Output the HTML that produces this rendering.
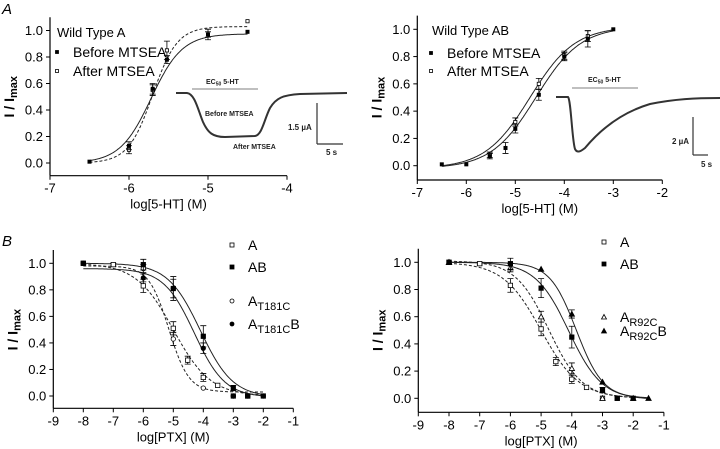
<!DOCTYPE html>
<html><head><meta charset="utf-8">
<style>
html,body{margin:0;padding:0;background:#fff;}
svg{display:block;font-family:"Liberation Sans",sans-serif;}
</style></head>
<body>
<svg id="fig" width="720" height="449" viewBox="0 0 720 449" xmlns="http://www.w3.org/2000/svg">
<text x="2" y="14" font-size="15" font-style="italic">A</text>
<text x="2" y="246" font-size="15" font-style="italic">B</text>
<!-- inset traces -->
<g fill="none" stroke="#333">
<path d="M176,93 L187,93 C195,94 198,110 203,122 C208,133 213,137 225,137 L255,136 C262,135 264,120 270,108 C276,98 283,95 300,94 L347,93" stroke-width="2"/>
<line x1="192" y1="89" x2="258" y2="89" stroke="#999" stroke-width="1.2"/>
<line x1="317" y1="103" x2="317" y2="144" stroke-width="1.2"/>
<line x1="317" y1="144" x2="343" y2="144" stroke-width="1.2"/>
</g>
<g font-size="7" font-weight="bold" fill="#222">
<text x="206" y="84">EC<tspan font-size="5" dy="1.5">50</tspan><tspan dy="-1.5"> 5-HT</tspan></text>
<text x="205" y="116">Before MTSEA</text>
<text x="233" y="149">After MTSEA</text>
<text x="288" y="130" font-size="8">1.5 µA</text>
<text x="326" y="155" font-size="8">5 s</text>
</g>
<g fill="none" stroke="#333">
<path d="M556,97 L568,97 C571,100 572,140 575,149 C577,153 580,152 585,148 C600,130 620,113 650,104 C675,99 695,98 720,98" stroke-width="2"/>
<line x1="572" y1="88" x2="638" y2="88" stroke="#999" stroke-width="1.2"/>
<line x1="693" y1="117" x2="693" y2="155" stroke-width="1.2"/>
<line x1="693" y1="155" x2="708" y2="155" stroke-width="1.2"/>
</g>
<g font-size="7" font-weight="bold" fill="#222">
<text x="588" y="82">EC<tspan font-size="5" dy="1.5">50</tspan><tspan dy="-1.5"> 5-HT</tspan></text>
<text x="672" y="144" font-size="8">2 µA</text>
<text x="701" y="167" font-size="8">5 s</text>
</g>
</svg>
<script>
// ---- Panel A left (Wild Type A) ----
const aL_beforeX=[-6.5,-6,-5.7,-5.52,-5,-4.5];
const aL_beforeY=[0.01,0.13,0.56,0.78,0.97,0.99];
const aL_beforeErr=[0,0.03,0.04,0.03,0.02,0];
const aL_afterX=[-6,-5.7,-5.52,-5,-4.5];
const aL_afterY=[0.10,0.55,0.85,0.97,1.07];
const aL_afterErr=[0.03,0.04,0.07,0.04,0];
const aL_beforeFit=[0,0.975,-5.72,2.2];
const aL_afterFit=[0,1.03,-5.70,2.8];
// ---- Panel A right (Wild Type AB) ----
const aR_beforeX=[-6.5,-6,-5.52,-5.2,-5,-4.52,-4,-3.52,-3];
const aR_beforeY=[0.01,0.01,0.07,0.13,0.27,0.52,0.80,0.93,1.0];
const aR_beforeErr=[0,0,0.02,0.04,0.03,0.04,0.03,0.06,0];
const aR_afterX=[-5.52,-5,-4.52,-4,-3.52];
const aR_afterY=[0.08,0.32,0.60,0.81,0.95];
const aR_afterErr=[0.02,0.03,0.04,0.03,0.04];
const aR_beforeFit=[-0.02,1.02,-4.58,0.95];
const aR_afterFit=[-0.02,1.02,-4.70,0.95];
// ---- Panel B shared ----
const bA_X=[-8,-7,-6,-5,-4.52,-4,-3.52,-3,-2.52];
const bA_Y=[1.0,0.99,0.83,0.51,0.27,0.14,0.08,0.0,0.0];
const bA_Err=[0,0.01,0.05,0.05,0.03,0.03,0,0,0];
const bAB_X=[-8,-6,-5,-4,-3,-2.52,-2];
const bAB_Y=[1.0,0.99,0.81,0.45,0.06,0.0,0.0];
const bAB_Err=[0,0.04,0.07,0.08,0.02,0,0];
const bA_Fit=[0,1.0,-5.0,0.7];
const bAB_Fit=[-0.01,1.0,-4.1,0.8];
// ---- Panel B left ----
const bT_X=[-8,-6,-5,-4,-3];
const bT_Y=[1.0,0.96,0.43,0.06,0.0];
const bT_Err=[0,0.03,0.05,0,0];
const bTB_X=[-8,-6,-5,-4,-3,-2.52,-2];
const bTB_Y=[1.0,0.89,0.81,0.36,0.0,0.0,0.0];
const bTB_Err=[0,0.03,0.09,0.04,0,0,0];
const bT_Fit=[0.03,0.98,-5.15,1.3];
const bTB_Fit=[-0.01,0.96,-4.3,0.85];
// ---- Panel B right ----
const bR_X=[-8,-6,-5,-4,-3];
const bR_Y=[1.0,0.96,0.60,0.22,0.0];
const bR_Err=[0,0.03,0.04,0.04,0];
const bRB_X=[-8,-5,-4,-3,-2,-1.5];
const bRB_Y=[1.0,0.95,0.62,0.12,0.0,0.0];
const bRB_Err=[0,0,0.03,0,0,0];
const bR_Fit=[0,1.01,-4.75,0.8];
const bRB_Fit=[0,1.0,-3.85,1.0];

const NS="http://www.w3.org/2000/svg";
const svg=document.getElementById('fig');
function mk(tag,attrs,parent){const e=document.createElementNS(NS,tag);for(const k in attrs)e.setAttribute(k,attrs[k]);(parent||svg).appendChild(e);return e;}

function makeAxes(name,ax){
  const g=mk('g',{});
  
  
  const sx=v=>ax.x0+(v-ax.xmin)*ax.xs, sy=v=>ax.y0-v*ax.ys;
  const yAxis=mk('line',{x1:ax.x0,y1:sy(1.1),x2:ax.x0,y2:ax.axY,stroke:'#000','stroke-width':1.2},g);
  
  
  const xAxis=mk('line',{x1:ax.x0,y1:ax.axY,x2:sx(ax.xmax),y2:ax.axY,stroke:'#000','stroke-width':1.2},g);
  
  
  for(const t of ax.yt){
    mk('line',{x1:ax.x0-4,y1:sy(t),x2:ax.x0,y2:sy(t),stroke:'#000'},g);
    const tx=mk('text',{x:ax.x0-7,y:sy(t)+4.5,'text-anchor':'end','font-size':13},g);
    tx.textContent=t.toFixed(1);
    
    
  }
  for(const t of ax.xt){
    mk('line',{x1:sx(t),y1:ax.axY,x2:sx(t),y2:ax.axY+4,stroke:'#000'},g);
    const tx=mk('text',{x:sx(t),y:ax.axY+17,'text-anchor':'middle','font-size':13},g);
    tx.textContent=String(t);
    
    
  }
  const xl=mk('text',{x:(ax.x0+sx(ax.xmax))/2,y:ax.axY+33,'text-anchor':'middle','font-size':13},g);
  xl.textContent=ax.xlabel;
  
  
  const cy=sy(0.5);
  const yl=mk('text',{x:0,y:0,'text-anchor':'middle','font-size':14,'font-weight':'bold',transform:`translate(${ax.x0-36},${cy}) rotate(-90)`},g);
  yl.innerHTML='I / I<tspan font-size="11" dy="3">max</tspan>';
  
  
  return {sx,sy,g};
}
function fit(ax,p,dashed,dir,name,x1,x2){
  const [bot,top,c,h]=p;let d='';
  for(let i=0;i<=200;i++){const x=x1+(x2-x1)*i/200;const y=bot+(top-bot)/(1+Math.pow(10,dir*(c-x)*h));d+=(i?'L':'M')+ax.sx(x).toFixed(1)+','+ax.sy(y).toFixed(1);}
  const e=mk('path',{d,fill:'none',stroke:'#222','stroke-width':1,'stroke-dasharray':dashed?'3,2':'none'},ax.g);
  
  
}
function marker(g,x,y,shape,s){
  const fill=shape[0]==='f'?'#000':'#fff';const k=shape.slice(1);
  if(k==='sq')return mk('rect',{x:x-s,y:y-s,width:2*s,height:2*s,fill,stroke:'#000','stroke-width':0.8},g);
  if(k==='ci')return mk('circle',{cx:x,cy:y,r:s,fill,stroke:'#000','stroke-width':0.8},g);
  return mk('polygon',{points:`${x},${y-s-0.5} ${x-s-0.5},${y+s} ${x+s+0.5},${y+s}`,fill,stroke:'#000','stroke-width':0.8},g);
}
function pts(ax,X,Y,E,shape,s,name){
  const g=mk('g',{},ax.g);
  
  
  X.forEach((x,i)=>{
    const px=ax.sx(x),py=ax.sy(Y[i]);
    if(E[i]>0){const a=ax.sy(Y[i]+E[i]),b=ax.sy(Y[i]-E[i]);
      mk('path',{d:`M${px},${a}V${b}M${px-3},${a}H${px+3}M${px-3},${b}H${px+3}`,stroke:'#000','stroke-width':0.8,fill:'none'},g);}
    const m=marker(g,px,py,shape,s);
    
    
  });
}
function legend(x,y,shape,s,label,sub,tail,name,fs){
  const g=mk('g',{});
  
  
  marker(g,x,y,shape,s);
  const t=mk('text',{x:x+16,y:y+5,'font-size':fs||14},g);
  t.innerHTML=label+(sub?`<tspan font-size="11" dy="4">${sub}</tspan>`:'')+(tail?`<tspan dy="-4">${tail}</tspan>`:'');
}

// Panel A left
const A1=makeAxes('chart-wild-type-a',{x0:50,y0:163,ys:132.5,xs:79,xmin:-7,xmax:-4,axY:175.7,yt:[0,0.2,0.4,0.6,0.8,1.0],xt:[-7,-6,-5,-4],xlabel:'log[5-HT] (M)'});
fit(A1,aL_beforeFit,false,1,'fit-before-mtsea',-6.5,-4.5);
fit(A1,aL_afterFit,true,1,'fit-after-mtsea',-6.5,-4.5);
pts(A1,aL_afterX,aL_afterY,aL_afterErr,'osq',1.6,'series-after-mtsea');
pts(A1,aL_beforeX,aL_beforeY,aL_beforeErr,'fsq',1.6,'series-before-mtsea');
{const t=mk('text',{x:57,y:37,'font-size':13});t.textContent='Wild Type A';}
legend(57,52,'fsq',1.5,'Before MTSEA','','','legend-before-mtsea');
legend(57,71,'osq',1.5,'After MTSEA','','','legend-after-mtsea');

// Panel A right
const A2=makeAxes('chart-wild-type-ab',{x0:417.3,y0:165.7,ys:136.4,xs:49,xmin:-7,xmax:-2,axY:180,yt:[0,0.2,0.4,0.6,0.8,1.0],xt:[-7,-6,-5,-4,-3,-2],xlabel:'log[5-HT] (M)'});
fit(A2,aR_beforeFit,false,1,'fit-before-mtsea-ab',-6.5,-3);
fit(A2,aR_afterFit,false,1,'fit-after-mtsea-ab',-6.5,-3);
pts(A2,aR_afterX,aR_afterY,aR_afterErr,'osq',1.6,'series-after-mtsea-ab');
pts(A2,aR_beforeX,aR_beforeY,aR_beforeErr,'fsq',1.6,'series-before-mtsea-ab');
{const t=mk('text',{x:432,y:35,'font-size':13});t.textContent='Wild Type AB';}
legend(431,53,'fsq',1.5,'Before MTSEA','','','legend-before-mtsea-ab');
legend(431,71,'osq',1.5,'After MTSEA','','','legend-after-mtsea-ab');

// Panel B left
const B1=makeAxes('chart-ptx-t181c',{x0:53.3,y0:396,ys:132.7,xs:30,xmin:-9,xmax:-1,axY:408.3,yt:[0,0.2,0.4,0.6,0.8,1.0],xt:[-9,-8,-7,-6,-5,-4,-3,-2,-1],xlabel:'log[PTX] (M)'});
fit(B1,bA_Fit,true,-1,'fit-a',-8,-2);
fit(B1,bT_Fit,true,-1,'fit-a-t181c',-8,-2);
fit(B1,bAB_Fit,false,-1,'fit-ab',-8,-2);
fit(B1,bTB_Fit,false,-1,'fit-a-t181c-b',-8,-2);
pts(B1,bA_X,bA_Y,bA_Err,'osq',2.2,'series-a');
pts(B1,bT_X,bT_Y,bT_Err,'oci',2.2,'series-a-t181c');
pts(B1,bAB_X,bAB_Y,bAB_Err,'fsq',2.2,'series-ab');
pts(B1,bTB_X,bTB_Y,bTB_Err,'fci',2.2,'series-a-t181c-b');
legend(232,245,'osq',2,'A','','','legend-a');
legend(232,267,'fsq',2,'AB','','','legend-ab');
legend(232,301,'oci',2,'A','T181C','','legend-a-t181c');
legend(232,324,'fci',2,'A','T181C','B','legend-a-t181c-b');

// Panel B right
const B2=makeAxes('chart-ptx-r92c',{x0:418.3,y0:398.3,ys:136,xs:30.7,xmin:-9,xmax:-1,axY:412.3,yt:[0,0.2,0.4,0.6,0.8,1.0],xt:[-9,-8,-7,-6,-5,-4,-3,-2,-1],xlabel:'log[PTX] (M)'});
fit(B2,bA_Fit,true,-1,'fit-a-r',-8,-2);
fit(B2,bR_Fit,true,-1,'fit-a-r92c',-8,-2);
fit(B2,bAB_Fit,false,-1,'fit-ab-r',-8,-1.5);
fit(B2,bRB_Fit,false,-1,'fit-a-r92c-b',-8,-1.5);
pts(B2,bA_X,bA_Y,bA_Err,'osq',2.2,'series-a-r');
pts(B2,bR_X,bR_Y,bR_Err,'otr',2.2,'series-a-r92c');
pts(B2,bAB_X,bAB_Y,bAB_Err,'fsq',2.2,'series-ab-r');
pts(B2,bRB_X,bRB_Y,bRB_Err,'ftr',2.2,'series-a-r92c-b');
legend(604,242,'osq',2,'A','','','legend-a-r');
legend(604,264,'fsq',2,'AB','','','legend-ab-r');
legend(604,317,'otr',2,'A','R92C','','legend-a-r92c');
legend(604,331,'ftr',2,'A','R92C','B','legend-a-r92c-b');
</script>
</body></html>
